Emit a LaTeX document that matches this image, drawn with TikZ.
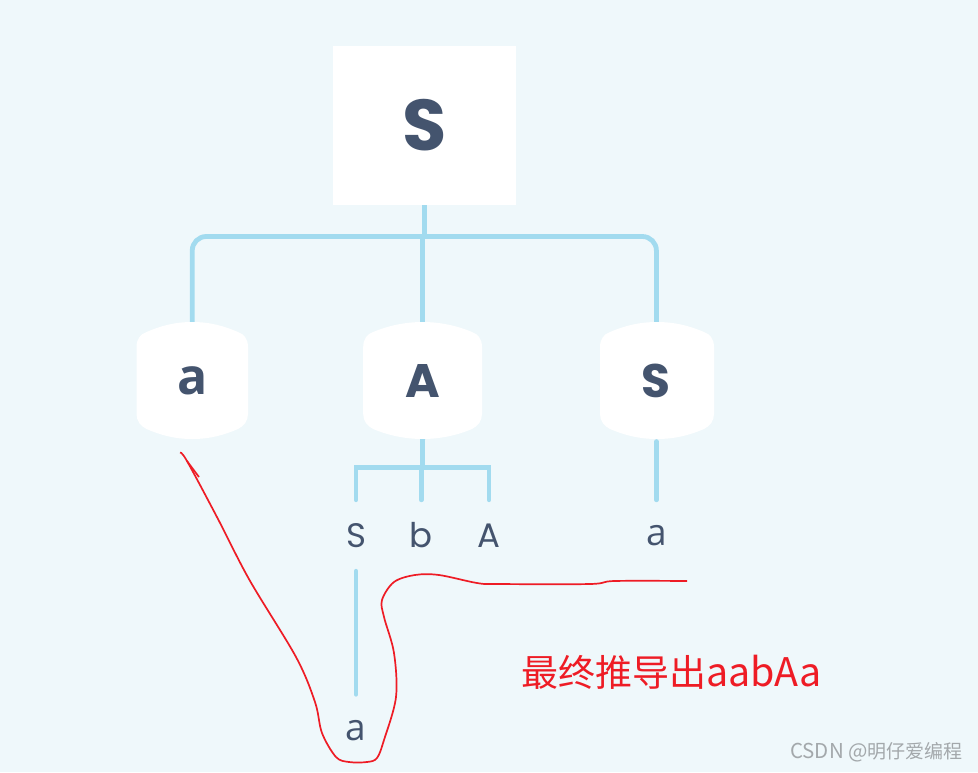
\documentclass[tikz,border=0pt]{standalone}
\usepackage{fontspec}
\setmainfont{Poppins}
\newfontfamily\cjkfont{Noto Sans CJK SC}
\newfontfamily\roundfont{Open Sans}
\definecolor{pagebg}{HTML}{EFF8FB}
\definecolor{treeblue}{HTML}{A2DBEF}
\definecolor{slate}{HTML}{44546E}
\definecolor{penred}{HTML}{EE1C25}
\definecolor{markgray}{HTML}{A3A8AB}
\newcommand{\drum}[2]{%
  \fill[white] ({#1-#2},347) .. controls ({#1-#2},339) and ({#1-#2+4},334) .. ({#1-#2+10},332)
    .. controls ({#1-#2+24},326) and ({#1-18},322) .. (#1,322)
    .. controls ({#1+18},322) and ({#1+#2-24},326) .. ({#1+#2-10},332)
    .. controls ({#1+#2-4},334) and ({#1+#2},339) .. ({#1+#2},347)
    -- ({#1+#2},414) .. controls ({#1+#2},421) and ({#1+#2-4},426) .. ({#1+#2-10},429)
    .. controls ({#1+#2-24},435) and ({#1+18},439) .. (#1,439)
    .. controls ({#1-18},439) and ({#1-#2+24},435) .. ({#1-#2+10},429)
    .. controls ({#1-#2+4},426) and ({#1-#2},421) .. ({#1-#2},414) -- cycle;}
\tikzset{
  treeline/.style={draw=treeblue, line width=4.8pt},
  tipline/.style={treeline, line cap=round},
  penline/.style={penred, line width=1.7pt},
  rootbox/.style={fill=white, minimum width=183pt, minimum height=159pt, inner sep=0pt,
    text=slate, font=\fontsize{72}{72}\bfseries\selectfont},
  drumtext/.style={minimum width=100pt, minimum height=117pt, inner sep=0pt,
    text=slate, font=\fontsize{47}{47}\bfseries\selectfont},
  drumsmall/.style={drumtext, font=\roundfont\fontsize{50}{50}\bfseries\selectfont},
  leaflabel/.style={minimum height=71pt, inner sep=0pt, text=slate,
    font=\fontsize{34}{34}\selectfont},
  leafsmall/.style={leaflabel, font=\roundfont\fontsize{37}{37}\selectfont},
}
\begin{document}
\begin{tikzpicture}[x=1pt,y=-1pt]
        \fill [pagebg] (0,0) rectangle (978,772);                    %
        \useasboundingbox (0,0) rectangle (978,772);                 %

        \node [rootbox]   (rootS) at (424.5,125.5) {S};              %top box
        \drum{192.25}{55.75}                                         %
        \drum{422.6}{59.4}                                           %
        \drum{657}{57}                                               %
        \node [drumsmall] (drumLeft)  at (192.25,380.5) {a};         %
        \node [drumtext]  (drumMid)   at (422.6,380.5)  {A};         %
        \node [drumtext]  (drumRight) at (656.4,380.5)  {S};         %

        \node [leaflabel] (leafS)     at (356,535.5) {S};            %
        \node [leaflabel] (leafb)     at (421.3,535.5) {b};          %
        \node [leaflabel] (leafA)     at (489,535.5) {A};            %
        \node [leafsmall] (leafa)     at (656.4,535.5) {a};          %
        \node [leafsmall, minimum height=73pt] (leafEnd) at (356,731) {a}; %

        \coordinate (forkTop) at (424.5,236.5);                      %
        \coordinate (forkLow) at (422.4,467.5);                      %
        \draw [treeline] (rootS.south) -- (forkTop);                 %
        \draw [treeline, rounded corners=14pt] (drumLeft.north) |- (forkTop) -| (drumRight.north);
        \draw [treeline] (drumMid.north) -- (drumMid.north |- forkTop); %
        \draw [treeline] (drumMid.south) -- (forkLow);               %
        \draw [tipline]  (leafS.north) |- (forkLow) -| (leafA.north); %
        \draw [tipline]  (leafb.north |- forkLow) -- (leafb.north);  %
        \draw [tipline, shorten <=2.4pt] (drumRight.south) -- (leafa.north); %
        \draw [tipline]  (leafS.south) -- (leafEnd.north);           %

        %pen stroke
        \draw [penline] plot [smooth, tension=0.55] coordinates {
          (687,581) (614.5,581) (590,584) (497.5,584) (477,583) (439,575) (415,575)
          (394,582) (382,600) (384,617) (394,653) (396,697) (384,740) (377,758)
          (367,762) (349,762) (336,757) (322,733) (315,702) (296,657) (249.5,580)
          (218,519) (187,461) (180,452.5)};
        \draw [penline] (187,461) -- (199,477);                      %

        \node [text=penred, inner sep=0pt, anchor=west, font=\cjkfont\fontsize{37}{37}\selectfont]
          (resultText) at (521,672) {最终推导出{\fontsize{39.4}{37}\selectfont aabAa}};
        \node [text=markgray, inner sep=0pt, anchor=east, font=\cjkfont\fontsize{19}{19}\selectfont]
          (markText) at (963,752) {{\fontsize{20.5}{19}\selectfont CSDN @}明仔爱编程};
\end{tikzpicture}
\end{document}
